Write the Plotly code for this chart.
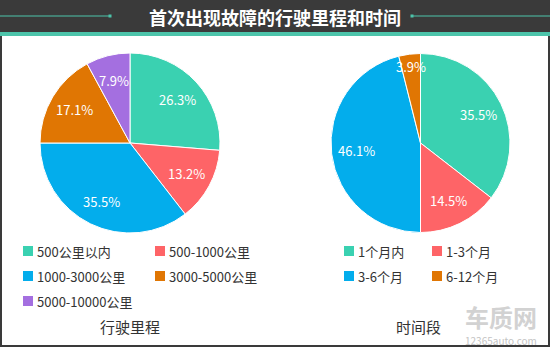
import math
import plotly.graph_objects as go

# Mileage at first failure
mileage_labels = ["500公里以内", "500-1000公里", "1000-3000公里", "3000-5000公里", "5000-10000公里"]
mileage_share = [26.3, 13.2, 35.5, 17.1, 7.9]
mileage_colors = ["#3ad1b1", "#fe6467", "#03adec", "#e07603", "#a46fe0"]

# Time of first failure
time_labels = ["1个月内", "1-3个月", "3-6个月", "6-12个月"]
time_share = [35.5, 14.5, 46.1, 3.9]
time_colors = ["#3ad1b1", "#fe6467", "#03adec", "#e07603"]

title_text = "首次出现故障的行驶里程和时间"
left_caption = "行驶里程"
right_caption = "时间段"

W, H = 550, 347
FONT = "Noto Sans CJK SC, Noto Sans, sans-serif"


def px_x(x):
    return x / W


def px_y(y):
    return 1 - y / H


def pie_domain(cx, cy, r):
    return dict(x=[px_x(cx - r), px_x(cx + r)], y=[px_y(cy + r), px_y(cy - r)])


fig = go.Figure()
shapes = []
annotations = []

for labels, values, colors, (cx, cy, r) in [
    (mileage_labels, mileage_share, mileage_colors, (130, 143, 90)),
    (time_labels, time_share, time_colors, (420.5, 143, 89.5)),
]:
    fig.add_trace(go.Pie(
        labels=labels,
        values=values,
        marker=dict(colors=colors, line=dict(color="white", width=1)),
        sort=False,
        direction="clockwise",
        rotation=0,
        domain=pie_domain(cx, cy, r),
        textinfo="none",
        showlegend=False,
        hoverinfo="label+value",
    ))
    # percentage labels on the slice bisectors, thin slices pushed outward
    total = sum(values)
    start = 0.0
    for v in values:
        mid = (start + v / 2) / total * 2 * math.pi
        start += v
        frac = 0.86 if v / total < 0.05 else 0.72
        lx = cx + frac * r * math.sin(mid)
        ly = cy - frac * r * math.cos(mid)
        annotations.append(dict(text=f"{v}%", x=px_x(lx), y=px_y(ly), xref="paper", yref="paper",
                                showarrow=False, xanchor="center", yanchor="middle",
                                font=dict(color="white", size=13, family=FONT)))

# header band
shapes.append(dict(type="rect", xref="paper", yref="paper", x0=0, x1=1,
                   y0=px_y(32), y1=1, fillcolor="#3a3a3a", line_width=0, layer="below"))
shapes.append(dict(type="rect", xref="paper", yref="paper", x0=0, x1=1,
                   y0=px_y(36), y1=px_y(32), fillcolor="#4cc4aa", line_width=0, layer="below"))
# frame around body
for x0, x1, y0, y1 in [(0, 2, 36, H), (W - 2, W, 36, H), (0, W, H - 2, H)]:
    shapes.append(dict(type="rect", xref="paper", yref="paper", x0=px_x(x0), x1=px_x(x1),
                       y0=px_y(y1), y1=px_y(y0), fillcolor="#3a3a3a", line_width=0))
# decorative lines beside title
for x0, x1, dot in [(0, 110, 110), (412, W, 412)]:
    shapes.append(dict(type="line", xref="paper", yref="paper", x0=px_x(x0), x1=px_x(x1),
                       y0=px_y(16), y1=px_y(16), line=dict(color="#4cc4aa", width=1)))
    shapes.append(dict(type="rect", xref="paper", yref="paper", x0=px_x(dot - 1.5), x1=px_x(dot + 1.5),
                       y0=px_y(17.5), y1=px_y(14.5), fillcolor="#4cc4aa", line_width=0))

annotations.append(dict(text="<b>" + title_text + "</b>", x=0.5, y=px_y(17), xref="paper", yref="paper",
                        showarrow=False, font=dict(color="white", size=18, family=FONT),
                        xanchor="center", yanchor="middle"))


def add_legend(labels, colors, col_x, row_y):
    for i, (lab, col) in enumerate(zip(labels, colors)):
        mx = col_x[i % 2]
        my = row_y[i // 2]
        shapes.append(dict(type="rect", xref="paper", yref="paper",
                           x0=px_x(mx - 5), x1=px_x(mx + 5), y0=px_y(my + 5), y1=px_y(my - 5),
                           fillcolor=col, line_width=0))
        annotations.append(dict(text=lab, x=px_x(mx + 7), y=px_y(my), xref="paper", yref="paper",
                                showarrow=False, xanchor="left", yanchor="middle",
                                font=dict(color="#333333", size=13, family=FONT)))


add_legend(mileage_labels, mileage_colors, [28, 160], [251, 276, 301])
add_legend(time_labels, time_colors, [349, 437], [251, 276])

for txt, x in [(left_caption, 130), (right_caption, 418)]:
    annotations.append(dict(text=txt, x=px_x(x), y=px_y(326), xref="paper", yref="paper",
                            showarrow=False, xanchor="center", yanchor="middle",
                            font=dict(color="#333333", size=15, family=FONT)))

# site mark
annotations.append(dict(text="<b>车质网</b>", x=px_x(501), y=px_y(316), xref="paper", yref="paper",
                        showarrow=False, xanchor="center", yanchor="middle",
                        font=dict(color="#d2d2d2", size=24, family=FONT)))
annotations.append(dict(text="12365auto.com", x=px_x(501), y=px_y(340.5), xref="paper", yref="paper",
                        showarrow=False, xanchor="center", yanchor="middle",
                        font=dict(color="#c4c4c4", size=10, family=FONT)))

fig.update_layout(
    width=W, height=H,
    margin=dict(l=0, r=0, t=0, b=0),
    paper_bgcolor="white",
    plot_bgcolor="white",
    shapes=shapes,
    annotations=annotations,
)

fig.write_html("out.html")
